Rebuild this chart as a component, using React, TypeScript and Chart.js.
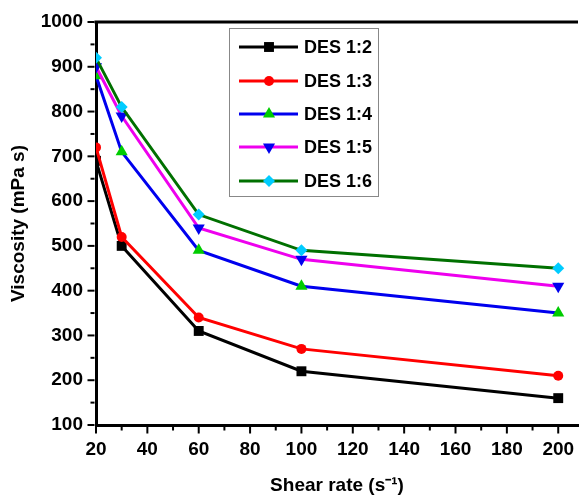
import React, { useEffect, useRef } from "react";
import { Chart, registerables } from "chart.js";

Chart.register(...registerables);

const shearRates = [20, 30, 60, 100, 200];
const des12 = [690, 500, 310, 220, 160];
const des13 = [720, 520, 340, 270, 210];
const des14 = [880, 710, 490, 410, 350];
const des15 = [900, 790, 540, 470, 410];
const des16 = [920, 810, 570, 490, 450];
const seriesLabels = ["DES 1:2", "DES 1:3", "DES 1:4", "DES 1:5", "DES 1:6"];
const xTicks = [20, 40, 60, 80, 100, 120, 140, 160, 180, 200];
const yTicks = [100, 200, 300, 400, 500, 600, 700, 800, 900, 1000];
const xTitle = "Shear rate (s\u207B\u00B9)";
const yTitle = "Viscosity (mPa s)";

const FONT = "'Liberation Sans', Arial, sans-serif";

type Style = { line: string; fill: string; shape: string; radius: number; rotation: number };
const styles: Style[] = [
  { line: "#000000", fill: "#000000", shape: "rect", radius: 7, rotation: 0 },
  { line: "#ff0000", fill: "#ff0000", shape: "circle", radius: 5, rotation: 0 },
  { line: "#0000ee", fill: "#00cc00", shape: "triangle", radius: 7, rotation: 0 },
  { line: "#ee00ee", fill: "#0000ee", shape: "triangle", radius: 7, rotation: 180 },
  { line: "#007000", fill: "#00ccff", shape: "rectRot", radius: 6, rotation: 0 },
];

function drawMarker(ctx: CanvasRenderingContext2D, s: Style, x: number, y: number) {
  const r = s.radius;
  ctx.save();
  ctx.fillStyle = s.fill;
  ctx.translate(x, y);
  ctx.rotate((s.rotation * Math.PI) / 180);
  ctx.beginPath();
  if (s.shape === "rect") {
    const h = Math.SQRT1_2 * r;
    ctx.rect(-h, -h, 2 * h, 2 * h);
  } else if (s.shape === "circle") {
    ctx.arc(0, 0, r, 0, Math.PI * 2);
  } else if (s.shape === "triangle") {
    ctx.moveTo(0, -r);
    ctx.lineTo(r * Math.cos(Math.PI / 6), r * 0.5);
    ctx.lineTo(-r * Math.cos(Math.PI / 6), r * 0.5);
    ctx.closePath();
  } else {
    ctx.moveTo(0, -r);
    ctx.lineTo(r, 0);
    ctx.lineTo(0, r);
    ctx.lineTo(-r, 0);
    ctx.closePath();
  }
  ctx.fill();
  ctx.restore();
}

const decorPlugin = {
  id: "decor",
  afterDraw(chart: any) {
    const ctx: CanvasRenderingContext2D = chart.ctx;
    const { left, right, top, bottom } = chart.chartArea;
    const xs = chart.scales.x;
    const ys = chart.scales.y;
    ctx.save();
    ctx.strokeStyle = "#000";
    ctx.lineWidth = 3;
    ctx.beginPath();
    ctx.moveTo(left - 1.5, top);
    ctx.lineTo(right, top);
    ctx.stroke();
    ctx.lineWidth = 2;
    for (let v = 100; v <= 1000; v += 50) {
      const py = ys.getPixelForValue(v);
      const len = v % 100 === 0 ? 7 : 4;
      ctx.beginPath();
      ctx.moveTo(left - 1.5, py);
      ctx.lineTo(left - 1.5 - len, py);
      ctx.stroke();
    }
    for (let v = 20; v <= 200; v += 10) {
      const px = xs.getPixelForValue(v);
      const len = v % 20 === 0 ? 7 : 4;
      ctx.beginPath();
      ctx.moveTo(px, bottom + 1.5);
      ctx.lineTo(px, bottom + 1.5 + len);
      ctx.stroke();
    }
    // legend
    const bx = 229, by = 28, bw = 149, bh = 168;
    ctx.fillStyle = "#fff";
    ctx.fillRect(bx, by, bw, bh);
    ctx.strokeStyle = "#888";
    ctx.lineWidth = 1;
    ctx.strokeRect(bx + 0.5, by + 0.5, bw, bh);
    const rowY = [47, 81, 114, 147, 181];
    ctx.font = `bold 18px ${FONT}`;
    ctx.textBaseline = "middle";
    ctx.textAlign = "left";
    seriesLabels.forEach((lab, i) => {
      const s = styles[i];
      ctx.strokeStyle = s.line;
      ctx.lineWidth = 3;
      ctx.beginPath();
      ctx.moveTo(239, rowY[i]);
      ctx.lineTo(298, rowY[i]);
      ctx.stroke();
      drawMarker(ctx, s, 269, rowY[i]);
      ctx.fillStyle = "#000";
      ctx.fillText(lab, 304, rowY[i] + 1);
    });
    ctx.restore();
  },
};

export default function App() {
  const ref = useRef<HTMLCanvasElement | null>(null);
  useEffect(() => {
    document.body.style.margin = "0";
    const seriesData = [des12, des13, des14, des15, des16];
    const datasets = seriesData.map((arr, i) => ({
      label: seriesLabels[i],
      data: arr.map((v, j) => ({ x: shearRates[j], y: v })),
      borderColor: styles[i].line,
      backgroundColor: styles[i].fill,
      borderWidth: 3,
      pointStyle: styles[i].shape as any,
      pointRadius: styles[i].radius,
      pointRotation: styles[i].rotation,
      pointBackgroundColor: styles[i].fill,
      pointBorderColor: styles[i].fill,
      pointBorderWidth: 0,
      order: 4 - i,
      tension: 0,
    }));
    const chart = new Chart(ref.current as HTMLCanvasElement, {
      type: "line",
      data: { datasets },
      options: {
        animation: false,
        responsive: false,
        maintainAspectRatio: false,
        layout: { padding: { top: 22, right: 0, left: 0, bottom: 0 } },
        plugins: { legend: { display: false }, tooltip: { enabled: false } },
        scales: {
          x: {
            type: "linear",
            min: 20,
            max: 207.7,
            afterBuildTicks: (s: any) => {
              s.ticks = xTicks.map((v) => ({ value: v }));
            },
            afterFit: (s: any) => {
              s.height = 74;
            },
            grid: { display: false },
            border: { display: true, color: "#000", width: 3 },
            ticks: {
              color: "#000",
              font: { family: FONT, size: 19, weight: "bold" },
              padding: 5,
              maxRotation: 0,
              autoSkip: false,
              callback: (v: any) => String(v),
            },
            title: {
              display: true,
              text: xTitle,
              color: "#000",
              font: { family: FONT, size: 19, weight: "bold" },
              padding: { top: 0, bottom: 2 },
            },
          },
          y: {
            type: "linear",
            min: 100,
            max: 1000,
            afterBuildTicks: (s: any) => {
              s.ticks = yTicks.map((v) => ({ value: v }));
            },
            afterFit: (s: any) => {
              s.width = 96;
            },
            grid: { display: false },
            border: { display: true, color: "#000", width: 3 },
            ticks: {
              color: "#000",
              font: { family: FONT, size: 19, weight: "bold" },
              padding: 5,
              autoSkip: false,
              callback: (v: any) => String(v),
            },
            title: {
              display: true,
              text: yTitle,
              color: "#000",
              font: { family: FONT, size: 19, weight: "bold" },
              padding: { top: 7, bottom: 0 },
            },
          },
        },
      },
      plugins: [decorPlugin],
    } as any);
    return () => chart.destroy();
  }, []);
  return (
    <div style={{ position: "absolute", left: 0, top: 0, width: 585, height: 499, background: "#fff" }}>
      <canvas ref={ref} width={585} height={499} style={{ display: "block", width: 585, height: 499 }} />
    </div>
  );
}
